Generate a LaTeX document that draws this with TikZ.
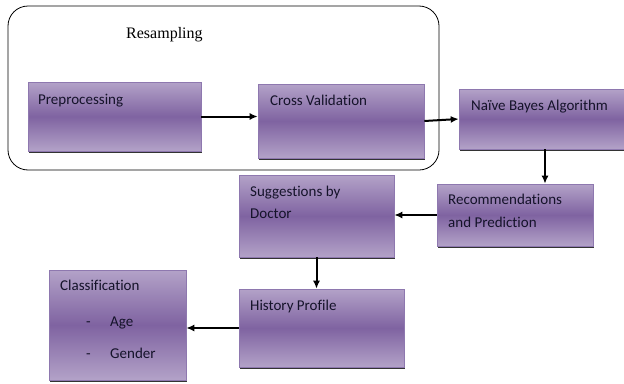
\documentclass[tikz,border=0pt]{standalone}
\usepackage{fontspec}
\setmainfont[Ligatures=NoCommon]{Carlito}
\newfontfamily\timesf{Liberation Serif}
\usetikzlibrary{arrows.meta,shadows,calc}
\definecolor{plight}{HTML}{B3A2C8}
\definecolor{pmid}{HTML}{7F63A1}
\definecolor{pedge}{HTML}{8E78AF}
\definecolor{ptext}{HTML}{15132A}
\begin{document}
\begin{tikzpicture}[x=1pt,y=-1pt,
  box/.style={rectangle, draw=pedge, line width=0.6pt, top color=plight, bottom color=plight, middle color=pmid,
    drop shadow={shadow xshift=0.6pt, shadow yshift=-2pt, fill=black!80, opacity=1}, inner sep=0pt},
  lbl/.style={anchor=base west, font=\fontsize{15}{22}\selectfont, text=ptext, inner sep=0pt},
  arr/.style={-{Latex[length=8pt,width=7pt]}, line width=2pt}]
\useasboundingbox (0,0) rectangle (624,383);
\clip (0,0) rectangle (624,383);
\fill[white] (0,0) rectangle (624,383);
% group
\node[draw, rounded corners=20pt, minimum width=431pt, minimum height=164pt, line width=0.8pt, inner sep=0pt] (resamp) at (223.5,88) {};
\node[anchor=base west, inner sep=0pt, font=\timesf\fontsize{16}{18}\selectfont] (tres) at (126,38) {Resampling};
% boxes
\node[box, minimum width=173pt, minimum height=69pt] (prep) at (114.5,116.5) {};
\node[box, minimum width=166pt, minimum height=74pt] (cross) at (341,121) {};
\node[box, minimum width=181pt, minimum height=60pt] (naive) at (549.5,119) {};
\node[box, minimum width=156pt, minimum height=62pt] (rec) at (515,215) {};
\node[box, minimum width=155pt, minimum height=82pt] (sugg) at (316.5,216) {};
\node[box, minimum width=165pt, minimum height=78pt] (hist) at (321.5,328) {};
\node[box, minimum width=137pt, minimum height=110pt] (class) at (117.5,325) {};
% labels
\node[lbl] (tprep) at (38,104.5) {Preprocessing};
\node[lbl] (tcross) at (270,105.5) {Cross Validation};
\node[lbl] (tnaive) at (471,110.5) {Naïve Bayes Algorithm};
\node[lbl] (trec1) at (448,204.5) {Recommendations};
\node[lbl] (trec2) at (448,227.5) {and Prediction};
\node[lbl] (tsug1) at (250,196.5) {Suggestions by};
\node[lbl] (tsug2) at (250,218.5) {Doctor};
\node[lbl] (thist) at (250,310.5) {History Profile};
\node[lbl] (tcls) at (60,290.5) {Classification};
\node[lbl] (dash1) at (86,326.5) {-};
\node[lbl] (tage) at (110,326.5) {Age};
\node[lbl] (dash2) at (86,358.5) {-};
\node[lbl] (tgen) at (110,358.5) {Gender};
% arrows
\draw[arr] (prep.east) -- (prep.east -| cross.west);
\draw[arr] (cross.east) -- (naive.west);
\draw[arr] ([xshift=-4.5pt]naive.south) -- ([xshift=-4.5pt]naive.south |- rec.north);
\draw[arr] (rec.west) -- (rec.west -| sugg.east);
\draw[arr] (sugg.south) -- (sugg.south |- hist.north);
\draw[arr] (hist.west) -- (hist.west -| class.east);
\end{tikzpicture}
\end{document}
